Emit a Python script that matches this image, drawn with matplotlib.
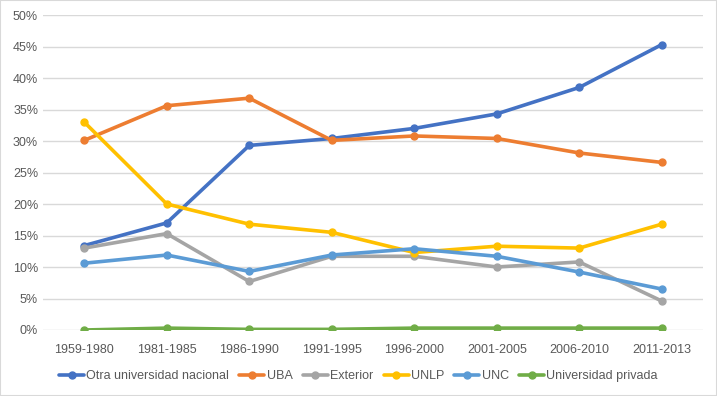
import matplotlib
matplotlib.use("Agg")
import matplotlib.pyplot as plt
from matplotlib.ticker import FuncFormatter, MultipleLocator

periods = ["1959-1980", "1981-1985", "1986-1990", "1991-1995",
           "1996-2000", "2001-2005", "2006-2010", "2011-2013"]
otra_nacional = [13.4, 17.0, 29.3, 30.4, 32.0, 34.3, 38.5, 45.3]
uba = [30.1, 35.6, 36.8, 30.1, 30.8, 30.4, 28.1, 26.6]
exterior = [13.0, 15.3, 7.7, 11.7, 11.7, 10.0, 10.8, 4.6]
unlp = [33.0, 20.0, 16.8, 15.5, 12.3, 13.3, 13.0, 16.8]
unc = [10.6, 11.9, 9.3, 11.9, 12.9, 11.7, 9.2, 6.5]
privada = [0.0, 0.3, 0.1, 0.1, 0.3, 0.3, 0.3, 0.3]

series = [
    ("Otra universidad nacional", otra_nacional, "#4472C4"),
    ("UBA", uba, "#ED7D31"),
    ("Exterior", exterior, "#A5A5A5"),
    ("UNLP", unlp, "#FFC000"),
    ("UNC", unc, "#5B9BD5"),
    ("Universidad privada", privada, "#70AD47"),
]

plt.rcParams["font.family"] = ["Liberation Sans", "DejaVu Sans"]
fig = plt.figure(figsize=(7.17, 3.96), dpi=100)
ax = fig.add_axes([43 / 717, 1 - 330 / 396, (703 - 43) / 717, (330 - 15) / 396])

x = range(len(periods))
for name, vals, col in series:
    ax.plot(x, vals, color=col, lw=2.6, marker="o", ms=5, label=name,
            solid_capstyle="round")

ax.set_xlim(-0.5, len(periods) - 0.5)
ax.set_ylim(0, 50)
ax.yaxis.set_major_locator(MultipleLocator(5))
ax.yaxis.set_major_formatter(FuncFormatter(lambda v, _: f"{v:.0f}%"))
ax.set_xticks(list(x))
ax.set_xticklabels(periods)
ax.grid(axis="y", color="#D9D9D9", lw=1)
ax.set_axisbelow(True)
for s in ax.spines.values():
    s.set_visible(False)
ax.tick_params(length=0, colors="#595959", labelsize=9)
ax.tick_params(axis="x", pad=10)

fig.legend(loc="center", bbox_to_anchor=(0.5, 1 - 376 / 396), ncol=6,
           frameon=False, fontsize=9, handlelength=2.0, handletextpad=0.2,
           columnspacing=0.8, labelcolor="#595959")
fig.patches.append(plt.Rectangle((0, 0), 1, 1, transform=fig.transFigure,
                                 fill=False, ec="#D9D9D9", lw=1.5))
fig.savefig("out.png", dpi=100)
